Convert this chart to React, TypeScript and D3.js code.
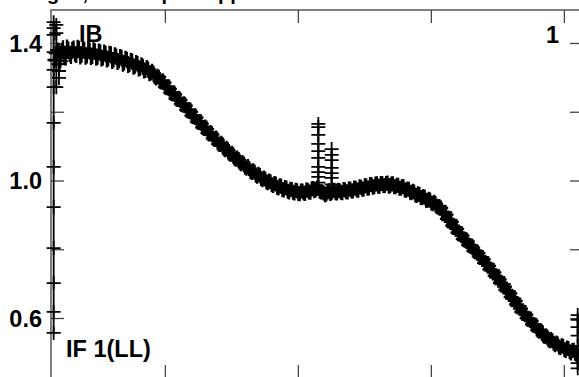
import React from 'react';
import * as d3 from 'd3';

const W = 579;
const H = 377;

const titleText = 'Vector averaged, all samples applied';
const antennaLabel = 'IB';
const ifLabel = 'IF 1(LL)';
const plotIndex = '1';

const xTicks = [100, 200, 300, 400];
const yTicks = [1.4, 1.2, 1.0, 0.8, 0.6];
const yLabelValues = [1.4, 1.0, 0.6];
const yLabelTexts = ['1.4', '1.0', '0.6'];

// odd channels 17, 19, ... 409
const bandAFirst = 17;
const bandAValues = [
  1.352, 1.381, 1.349, 1.388, 1.358, 1.384, 1.362, 1.387, 1.365, 1.386,
  1.366, 1.383, 1.364, 1.381, 1.362, 1.379, 1.360, 1.376, 1.358, 1.372,
  1.355, 1.370, 1.352, 1.364, 1.349, 1.360, 1.343, 1.354, 1.339, 1.349,
  1.334, 1.342, 1.328, 1.334, 1.322, 1.326, 1.314, 1.314, 1.300, 1.302,
  1.288, 1.286, 1.271, 1.268, 1.254, 1.252, 1.237, 1.235, 1.221, 1.219,
  1.204, 1.201, 1.187, 1.184, 1.170, 1.167, 1.153, 1.151, 1.137, 1.135,
  1.121, 1.119, 1.106, 1.104, 1.091, 1.090, 1.077, 1.076, 1.063, 1.062,
  1.050, 1.049, 1.037, 1.037, 1.025, 1.026, 1.014, 1.016, 1.004, 1.006,
  0.995, 0.998, 0.987, 0.991, 0.980, 0.985, 0.974, 0.980, 0.968, 0.975,
  0.965, 0.972, 0.963, 0.971, 0.964, 0.973, 0.967, 0.978, 0.974, 0.980,
  0.968, 0.965, 0.962, 0.972, 0.966, 0.973, 0.965, 0.972, 0.966, 0.974,
  0.968, 0.977, 0.971, 0.979, 0.973, 0.982, 0.976, 0.986, 0.980, 0.989,
  0.983, 0.992, 0.985, 0.993, 0.987, 0.994, 0.986, 0.992, 0.983, 0.988,
  0.979, 0.983, 0.973, 0.976, 0.966, 0.968, 0.958, 0.961, 0.951, 0.953,
  0.943, 0.945, 0.934, 0.935, 0.924, 0.922, 0.908, 0.902, 0.886, 0.881,
  0.866, 0.861, 0.846, 0.841, 0.828, 0.824, 0.811, 0.806, 0.794, 0.790,
  0.778, 0.772, 0.759, 0.753, 0.740, 0.734, 0.720, 0.714, 0.700, 0.693,
  0.679, 0.673, 0.658, 0.651, 0.637, 0.629, 0.616, 0.611, 0.597, 0.593,
  0.580, 0.576, 0.563, 0.560, 0.548, 0.546, 0.535, 0.535, 0.524, 0.526,
  0.515, 0.519, 0.507, 0.513, 0.500, 0.508, 0.496,
];

// even channels 18, 20, ... 408
const bandBFirst = 18;
const bandBValues = [
  1.372, 1.340, 1.379, 1.362, 1.390, 1.368, 1.383, 1.369, 1.389, 1.361,
  1.384, 1.360, 1.385, 1.359, 1.382, 1.357, 1.378, 1.355, 1.375, 1.352,
  1.372, 1.348, 1.367, 1.345, 1.362, 1.340, 1.357, 1.336, 1.351, 1.331,
  1.345, 1.326, 1.338, 1.320, 1.330, 1.312, 1.319, 1.303, 1.305, 1.290,
  1.292, 1.274, 1.274, 1.257, 1.257, 1.240, 1.241, 1.224, 1.225, 1.207,
  1.207, 1.190, 1.190, 1.173, 1.173, 1.156, 1.157, 1.140, 1.141, 1.124,
  1.125, 1.108, 1.110, 1.094, 1.095, 1.080, 1.081, 1.066, 1.067, 1.053,
  1.054, 1.040, 1.042, 1.028, 1.030, 1.017, 1.020, 1.007, 1.009, 0.997,
  1.000, 0.989, 0.993, 0.982, 0.986, 0.975, 0.981, 0.970, 0.976, 0.967,
  0.973, 0.964, 0.971, 0.965, 0.974, 0.968, 0.977, 0.972, 0.980, 0.970,
  0.969, 0.960, 0.968, 0.964, 0.972, 0.966, 0.973, 0.967, 0.975, 0.969,
  0.977, 0.971, 0.980, 0.974, 0.983, 0.977, 0.986, 0.979, 0.990, 0.982,
  0.991, 0.985, 0.993, 0.986, 0.993, 0.985, 0.991, 0.983, 0.988, 0.979,
  0.984, 0.974, 0.977, 0.967, 0.970, 0.959, 0.963, 0.952, 0.955, 0.944,
  0.947, 0.936, 0.938, 0.926, 0.926, 0.911, 0.909, 0.890, 0.887, 0.870,
  0.866, 0.850, 0.846, 0.831, 0.829, 0.814, 0.811, 0.797, 0.795, 0.781,
  0.778, 0.762, 0.759, 0.743, 0.740, 0.724, 0.720, 0.704, 0.700, 0.683,
  0.679, 0.662, 0.658, 0.641, 0.636, 0.619, 0.617, 0.601, 0.598, 0.583,
  0.581, 0.566, 0.565, 0.551, 0.550, 0.538, 0.539, 0.527, 0.529, 0.517,
  0.521, 0.510, 0.514, 0.503, 0.507, 0.499,
];

// extra samples stacked at single channels (edges and RFI spikes)
const extraChannels = [
  16, 16, 16, 16, 16, 16, 16, 16, 16, 16, 16, 16, 16,
  18, 18, 18, 18, 20, 20, 20,
  215, 215, 215, 215, 215, 215, 215, 215, 215, 215,
  225, 225, 225, 225, 225, 225, 225,
  410, 410, 410, 410, 410, 410, 410, 410,
];
const extraValues = [
  1.462, 1.445, 1.425, 1.375, 1.323, 1.273, 1.169, 1.041, 0.924, 0.805, 0.703, 0.619, 0.558,
  1.454, 1.430, 1.350, 1.273, 1.380, 1.320, 1.300,
  1.166, 1.157, 1.134, 1.108, 1.087, 1.067, 1.041, 1.026, 1.012, 0.995,
  1.093, 1.076, 1.061, 1.038, 1.023, 1.009, 0.990,
  0.610, 0.596, 0.575, 0.550, 0.520, 0.490, 0.470, 0.455,
];

const FONT = "'Liberation Sans', Arial, Helvetica, sans-serif";

export default function App() {
  const x = d3.scaleLinear().domain([14, 414]).range([51, 583]);
  const y = d3.scaleLinear().domain([1.0, 0.6]).range([181, 318.5]);
  const frameTop = 10;
  const frameBottom = 378;
  const frameLeft = x(14);
  const frameRight = x(414);
  const arm = 7.5;
  const tickLen = 13;

  const band = [
    ...bandAValues.map((v, i) => ({ c: bandAFirst + i * 2, v })),
    ...bandBValues.map((v, i) => ({ c: bandBFirst + i * 2, v })),
  ];
  const extras = extraChannels.map((c, i) => ({ c, v: extraValues[i] }));
  const groups = Array.from(d3.group(extras, (d) => d.c), ([c, pts]) => ({
    c,
    lo: d3.min(pts, (p) => p.v) as number,
    hi: d3.max(pts, (p) => p.v) as number,
  }));
  const vline = d3.line<[number, number]>();

  const plus = (px: number, py: number, key: string, a: number) => (
    <path
      key={key}
      d={`M${px - a},${py}H${px + a}M${px},${py - a}V${py + a}`}
    />
  );

  return (
    <svg
      width={W}
      height={H}
      style={{ position: 'absolute', left: 0, top: 0, background: '#fff' }}
    >
      <text
        x={277}
        y={0}
        textAnchor="end"
        fontFamily={FONT}
        fontWeight="bold"
        fontSize={20}
        fill="#000"
      >
        {titleText}
      </text>

      {/* frame */}
      <rect
        x={frameLeft}
        y={frameTop}
        width={frameRight - frameLeft}
        height={frameBottom - frameTop}
        fill="none"
        stroke="#555"
        strokeWidth={1.5}
      />
      <g stroke="#444" strokeWidth={1.3}>
        {xTicks.map((t) => (
          <g key={`xt${t}`}>
            <line x1={x(t)} x2={x(t)} y1={frameTop} y2={frameTop + tickLen} />
            <line x1={x(t)} x2={x(t)} y1={frameBottom} y2={frameBottom - tickLen} />
          </g>
        ))}
        {yTicks.map((t) => (
          <g key={`yt${t}`}>
            <line x1={frameLeft} x2={frameLeft + tickLen} y1={y(t)} y2={y(t)} />
            <line x1={frameRight} x2={frameRight - tickLen} y1={y(t)} y2={y(t)} />
          </g>
        ))}
      </g>

      {/* data */}
      <g stroke="#000" fill="none">
        <g strokeWidth={2.3}>
          {band.map((d, i) => plus(x(d.c), y(d.v), `b${i}`, arm))}
        </g>
        <g strokeWidth={1.8}>
          {groups.map((g) => (
            <path
              key={`vl${g.c}`}
              d={vline([
                [x(g.c), y(g.hi)],
                [x(g.c), y(g.lo)],
              ]) as string}
            />
          ))}
          {extras.map((d, i) => plus(x(d.c), y(d.v), `e${i}`, 7))}
        </g>
      </g>

      {/* labels */}
      <g fontFamily={FONT} fontWeight="bold" fontSize={23.5} fill="#000">
        {yLabelValues.map((v, i) => (
          <text key={`yl${v}`} x={42} y={y(v) + 8} textAnchor="end">
            {yLabelTexts[i]}
          </text>
        ))}
        <text x={79} y={42}>{antennaLabel}</text>
        <text x={66} y={357}>{ifLabel}</text>
        <text x={559} y={43} textAnchor="end">{plotIndex}</text>
      </g>
    </svg>
  );
}
